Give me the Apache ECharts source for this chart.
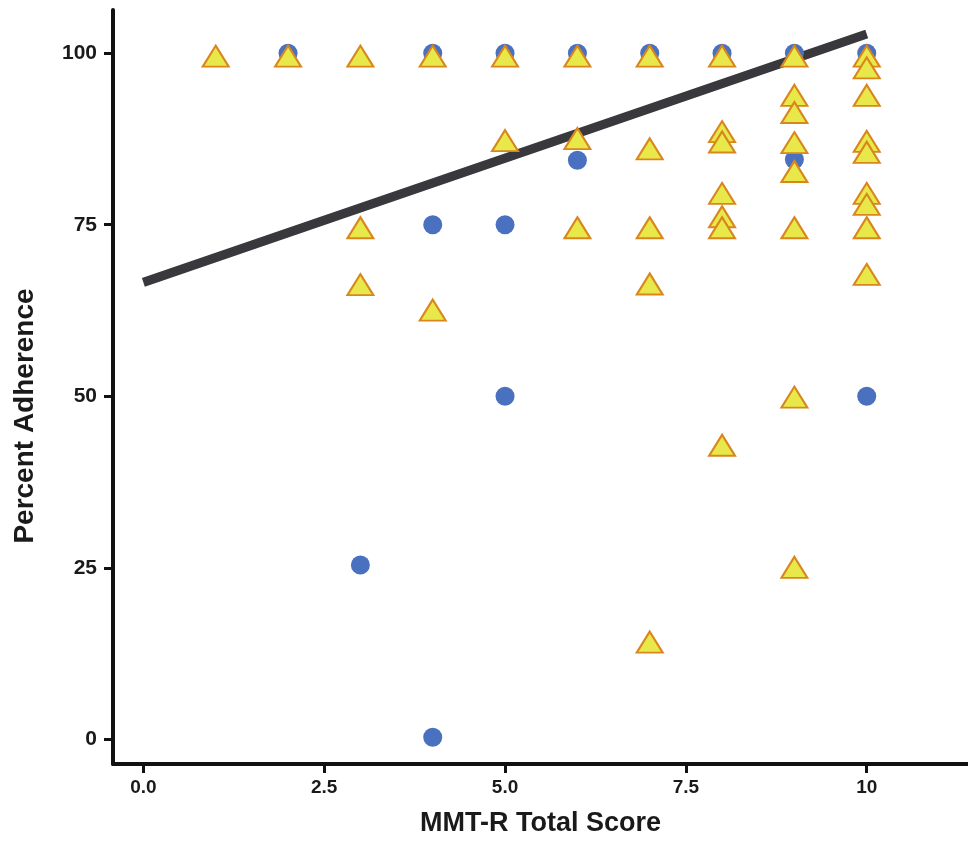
<!DOCTYPE html>
<html>
<head>
<meta charset="utf-8">
<script src="https://cdn.jsdelivr.net/npm/echarts@6/dist/echarts.min.js"></script>
<style>
  html, body { margin: 0; padding: 0; background: #fff; }
  #chart { width: 968px; height: 842px; }
</style>
</head>
<body>
<div id="chart"></div>
<script>
// tick labels
const xTicks = [0, 2.5, 5, 7.5, 10];
const yTicks = [0, 25, 50, 75, 100];

// blue circles
const circleX = [2, 3, 4, 4, 4, 5, 5, 5, 6, 6, 7, 8, 9, 9, 10, 10];
const circleY = [100, 25.4, 100, 75, 0.3, 100, 75, 50, 100, 84.4, 100, 100, 100, 84.5, 100, 50];

// yellow triangles
const triX = [1, 2, 3, 3, 3, 4, 4, 5, 5, 6, 6, 6,
              7, 7, 7, 7, 7,
              8, 8, 8, 8, 8, 8, 8,
              9, 9, 9, 9, 9, 9, 9, 9,
              10, 10, 10, 10, 10, 10, 10, 10, 10];
const triY = [100, 100, 100, 75, 66.7, 100, 63, 100, 87.7, 100, 88, 75,
              100, 86.5, 75, 66.8, 14.6,
              100, 89, 87.5, 80, 76.6, 75, 43.3,
              100, 94.3, 91.8, 87.4, 83.2, 75, 50.3, 25.5,
              100, 98.3, 94.3, 87.6, 86, 80, 78.4, 75, 68.2];

// fitted line end points
const fitX = [0, 10];
const fitY = [66.6, 102.8];

const zip = (a, b) => a.map((v, i) => [v, b[i]]);

const font = '"Liberation Sans Narrow", "Arial Narrow", sans-serif';

const chart = echarts.init(document.getElementById('chart'));

const option = {
  animation: false,
  grid: { left: 113, right: 0, top: 10, bottom: 77 },
  // y title sits a bit below the axis middle in the original
  graphic: [{
    type: 'text',
    x: 25,
    y: 416,
    rotation: Math.PI / 2,
    style: {
      text: 'Percent Adherence',
      fontFamily: font, fontWeight: 'bold', fontSize: 28, fill: '#1a1a1a',
      align: 'center', verticalAlign: 'middle'
    }
  }],
  xAxis: {
    type: 'value',
    min: -0.42,
    max: 11.4,
    name: 'MMT-R Total Score',
    nameLocation: 'middle',
    nameGap: 46,
    nameTextStyle: { fontFamily: font, fontWeight: 'bold', fontSize: 27, color: '#1a1a1a' },
    splitLine: { show: false },
    axisLine: { show: true, onZero: false, lineStyle: { color: '#111', width: 4 } },
    axisTick: { show: true, length: 9, lineStyle: { color: '#111', width: 3 }, customValues: xTicks },
    axisLabel: {
      margin: 14,
      fontFamily: font, fontWeight: 'bold', fontSize: 19, color: '#1a1a1a',
      customValues: xTicks,
      formatter: v => (v === 10 ? '10' : v.toFixed(1))
    }
  },
  yAxis: {
    type: 'value',
    min: -3.6,
    max: 106.3,
    splitLine: { show: false },
    axisLine: { show: true, onZero: false, lineStyle: { color: '#111', width: 4 } },
    axisTick: { show: true, length: 9, lineStyle: { color: '#111', width: 3 }, customValues: yTicks },
    axisLabel: {
      margin: 16,
      fontFamily: font, fontWeight: 'bold', fontSize: 21, color: '#1a1a1a',
      customValues: yTicks
    }
  },
  series: [
    {
      type: 'line',
      data: zip(fitX, fitY),
      symbol: 'none',
      lineStyle: { color: '#38383d', width: 9 },
      z: 1
    },
    {
      type: 'scatter',
      data: zip(circleX, circleY),
      symbol: 'circle',
      symbolSize: 19,
      itemStyle: { color: '#4a70c0', opacity: 1 },
      z: 2
    },
    {
      type: 'scatter',
      data: zip(triX, triY),
      symbol: 'triangle',
      symbolSize: [26, 21],
      symbolOffset: [0, 3],
      itemStyle: { color: '#e8e84a', borderColor: '#d9861c', borderWidth: 2, opacity: 1 },
      z: 3
    }
  ]
};

chart.setOption(option);
</script>
</body>
</html>
